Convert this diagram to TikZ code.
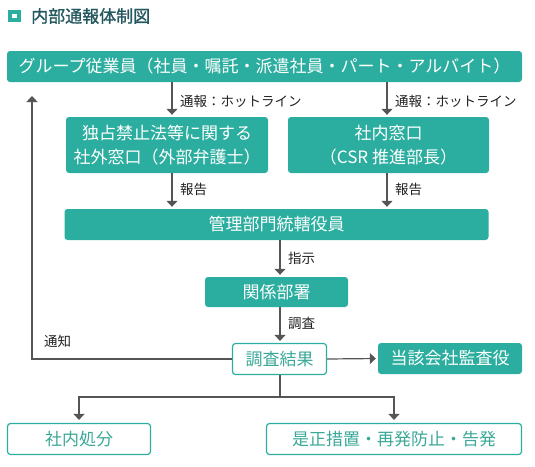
\documentclass[tikz,border=0pt]{standalone}
\usepackage{fontspec}
\setmainfont{Noto Sans CJK JP}
\newfontfamily\titlefont[FakeBold=1.2]{Noto Sans CJK JP}
\usetikzlibrary{arrows.meta}
\definecolor{teal1}{HTML}{2BAE9F}
\definecolor{tealtxt}{HTML}{3AA898}
\definecolor{titlec}{HTML}{24585F}
\definecolor{txt}{HTML}{222222}
\definecolor{ln}{HTML}{555555}
\tikzset{
  fillbox/.style={draw=none, fill=teal1, rounded corners=3pt, text=white, inner sep=0pt, font=\fontsize{17}{24}\selectfont, align=center},
  linebox/.style={draw=teal1, line width=1.2pt, fill=white, rounded corners=3pt, text=tealtxt, inner sep=0pt, font=\fontsize{17}{24}\selectfont, align=center},
  lbl/.style={anchor=west, inner sep=0pt, text=txt, font=\fontsize{13.5}{16}\selectfont},
  conn/.style={draw=ln, line width=1.2pt},
  arr/.style={conn, -{Triangle[width=11pt,length=6pt]}},
}
\begin{document}
\begin{tikzpicture}[x=1pt,y=-1pt]
\useasboundingbox (0,0) rectangle (535,466);
% title
\fill[teal1] (8,9.5) rectangle (20.5,22);
\fill[white] (12,13.5) rectangle (16.5,18);
\node[anchor=west, inner sep=0pt, text=titlec, font=\titlefont\fontsize{17}{20}\selectfont] (title) at (31,16) {内部通報体制図};
% boxes
\node[fillbox, minimum width=515pt, minimum height=31pt] (top) at (264.5,66.5) {グループ従業員（社員・嘱託・派遣社員・パート・アルバイト）};
\node[fillbox, minimum width=202pt, minimum height=56pt] (ext) at (167,145) {独占禁止法等に関する\\社外窓口（外部弁護士）};
\node[fillbox, minimum width=201pt, minimum height=56pt] (int) at (388.5,145) {社内窓口\\（CSR 推進部長）};
\node[fillbox, minimum width=424pt, minimum height=31pt] (mgr) at (276.5,224.5) {管理部門統轄役員};
\node[fillbox, minimum width=143pt, minimum height=30pt] (dept) at (276.5,292) {関係部署};
\node[linebox, minimum width=94pt, minimum height=31pt] (res) at (279.5,359) {調査結果};
\node[fillbox, minimum width=144pt, minimum height=31pt] (aud) at (450,358.5) {当該会社監査役};
\node[linebox, minimum width=143pt, minimum height=31pt] (disc) at (79,439) {社内処分};
\node[linebox, minimum width=255pt, minimum height=31pt] (corr) at (394,439) {是正措置・再発防止・告発};
% helper coordinates
\coordinate (xa) at (172,0);
\coordinate (xb) at (387,0);
\coordinate (xc) at (280,0);
\coordinate (xl) at (32,0);
\coordinate (upend) at (32,96);
\coordinate (split) at (280,397);
\coordinate (xd) at (79,0);
\coordinate (xe) at (394,0);
% connectors
\draw[arr, shorten >=2pt] (top.south -| xa) -- (ext.north -| xa);
\draw[arr, shorten >=2pt] (top.south -| xb) -- (int.north -| xb);
\draw[arr, shorten >=2pt] (ext.south -| xa) -- (mgr.north -| xa);
\draw[arr, shorten >=2pt] (int.south -| xb) -- (mgr.north -| xb);
\draw[arr, shorten >=2pt] (mgr.south -| xc) -- (dept.north -| xc);
\draw[arr, shorten >=2pt] (dept.south -| xc) -- (res.north -| xc);
\draw[arr, shorten >=2pt] (res.east) -- (aud.west);
\draw[arr] (res.west) -- (res.west -| xl) -- (upend);
\draw[conn] (res.south -| xc) -- (split);
\draw[arr, shorten >=3pt] (split) -| (disc.north -| xd);
\draw[arr, shorten >=3pt] (split) -| (corr.north -| xe);
% labels
\node[lbl] (l1) at (180,101) {通報：ホットライン};
\node[lbl] (l2) at (395,101) {通報：ホットライン};
\node[lbl] (l3) at (180,189) {報告};
\node[lbl] (l4) at (395,189) {報告};
\node[lbl] (l5) at (288,258) {指示};
\node[lbl] (l6) at (288,323) {調査};
\node[lbl] (l7) at (44,341) {通知};
\end{tikzpicture}
\end{document}
